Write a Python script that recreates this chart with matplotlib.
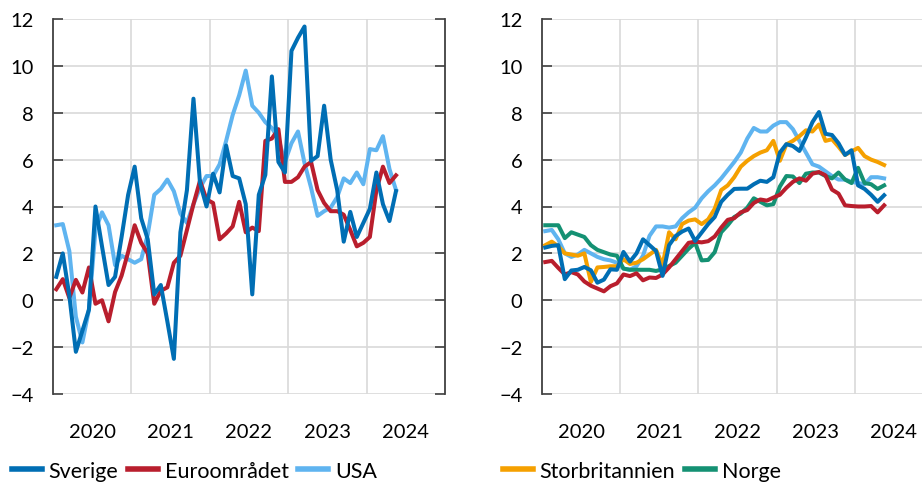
import matplotlib.pyplot as plt
import numpy as np
import pandas as pd

# manadsdata jan 2020 - maj 2024
months = pd.date_range('2020-01-01', periods=53, freq='MS')

# vanster panel
sverige_a = [1.0, 2.0, 0.2, -2.2, -1.3, -0.4, 4.0, 2.3, 0.65, 1.0, 2.7, 4.5, 5.7, 3.5, 2.6, 0.25, 0.65,
             -0.9, -2.5, 2.9, 4.7, 8.6, 5.0, 4.0, 5.4, 4.6, 6.6, 5.3, 5.2, 4.1, 0.25, 4.5, 5.35, 9.55,
             5.9, 5.45, 10.64, 11.2, 11.68, 5.95, 6.15, 8.3, 6.0, 4.7, 2.5, 3.77, 2.7, 3.3, 3.9, 5.45,
             4.1, 3.38, 4.66]
euro_a = [0.47, 0.9, 0.1, 0.87, 0.33, 1.4, -0.15, 0.0, -0.9, 0.35, 1.05, 2.05, 3.2, 2.45, 2.0, -0.15,
          0.4, 0.55, 1.6, 1.9, 3.0, 4.1, 5.1, 4.3, 4.15, 2.6, 2.85, 3.15, 4.2, 2.9, 3.1, 2.95, 6.8, 6.9,
          7.3, 5.05, 5.05, 5.25, 5.7, 5.9, 4.7, 4.15, 3.8, 3.8, 3.65, 3.0, 2.3, 2.45, 2.7, 4.7, 5.7,
          5.0, 5.33]
usa_a = [3.2, 3.25, 2.1, -0.7, -1.8, -0.4, 3.0, 3.75, 3.2, 1.5, 1.9, 1.75, 1.6, 1.75, 2.8, 4.5, 4.75,
         5.15, 4.65, 3.7, 3.3, 4.1, 4.8, 5.3, 5.3, 5.8, 6.8, 7.9, 8.75, 9.8, 8.3, 8.0, 7.6, 7.35, 6.9,
         5.9, 6.7, 7.2, 5.85, 4.8, 3.6, 3.8, 3.95, 4.4, 5.2, 5.0, 5.45, 4.95, 6.45, 6.4, 7.0, 5.6, 4.7]

# hoger panel
sverige_b = [2.25, 2.32, 2.35, 0.9, 1.27, 1.3, 1.42, 1.28, 0.75, 0.88, 1.32, 1.3, 2.06, 1.65, 2.0, 2.6,
             2.35, 2.1, 1.04, 2.35, 2.74, 2.93, 3.06, 2.53, 2.89, 3.25, 3.55, 4.2, 4.5, 4.75, 4.76, 4.76,
             4.95, 5.1, 5.05, 5.25, 6.3, 6.66, 6.58, 6.37, 6.95, 7.6, 8.03, 7.1, 7.05, 6.7, 6.2, 6.4,
             4.9, 4.75, 4.5, 4.2, 4.48]
euro_b = [1.63, 1.68, 1.38, 1.1, 1.2, 1.1, 0.8, 0.62, 0.5, 0.38, 0.6, 0.72, 1.1, 1.03, 1.15, 0.85, 0.97,
          0.95, 1.1, 1.4, 1.75, 2.1, 2.45, 2.5, 2.47, 2.52, 2.72, 3.1, 3.43, 3.5, 3.75, 3.85, 4.15, 4.3,
          4.25, 4.38, 4.5, 4.8, 5.05, 5.2, 5.1, 5.4, 5.47, 5.33, 4.72, 4.55, 4.05, 4.02, 4.0, 4.0, 4.02,
          3.75, 4.05]
usa_b = [2.95, 3.0, 2.6, 2.0, 1.85, 1.95, 2.15, 2.0, 1.85, 1.75, 1.7, 1.6, 1.35, 1.3, 1.45, 1.9, 2.75,
         3.15, 3.15, 3.1, 3.15, 3.5, 3.75, 3.95, 4.35, 4.65, 4.9, 5.2, 5.55, 5.9, 6.3, 6.9, 7.35, 7.2,
         7.2, 7.45, 7.6, 7.6, 7.3, 6.8, 6.3, 5.8, 5.7, 5.5, 5.3, 5.15, 5.15, 5.05, 5.0, 4.95, 5.25,
         5.25, 5.2]
storbritannien_b = [2.35, 2.5, 2.3, 2.0, 1.95, 1.9, 2.0, 0.78, 1.4, 1.42, 1.45, 1.45, 1.75, 1.55, 1.6,
                    1.75, 1.95, 2.15, 1.5, 2.9, 2.6, 3.25, 3.4, 3.45, 3.25, 3.45, 3.9, 4.7, 4.9, 5.25,
                    5.7, 5.95, 6.15, 6.3, 6.4, 6.8, 5.95, 6.65, 6.8, 7.0, 7.25, 7.2, 7.5, 6.8, 6.87,
                    6.55, 6.2, 6.35, 6.5, 6.15, 6.0, 5.9, 5.77]
norge_b = [3.2, 3.2, 3.2, 2.65, 2.9, 2.8, 2.7, 2.35, 2.15, 2.05, 1.95, 1.9, 1.35, 1.3, 1.3, 1.3, 1.3,
           1.25, 1.32, 1.46, 1.6, 1.9, 2.2, 2.45, 1.7, 1.72, 2.05, 2.9, 3.2, 3.55, 3.7, 3.95, 4.35,
           4.2, 4.05, 4.1, 4.85, 5.3, 5.28, 5.0, 5.4, 5.45, 5.45, 5.3, 5.2, 5.45, 5.15, 5.0, 5.65,
           5.0, 4.95, 4.75, 4.9]

years = ['2020', '2021', '2022', '2023', '2024']

c_se = '#006eb4'
c_eu = '#b91e2d'
c_us = '#5fb4f0'
c_uk = '#f5a000'
c_no = '#149173'

plt.rcParams['font.family'] = ['Lato', 'DejaVu Sans']

x = months.year + (months.month - 0.5) / 12

fig = plt.figure(figsize=(9.22, 4.85), dpi=100)
ax1 = fig.add_axes([53 / 922, 90 / 485, 392 / 922, 375 / 485])
ax2 = fig.add_axes([542 / 922, 90 / 485, 391 / 922, 375 / 485])


def style_axes(ax, right_side):
    ax.set_xlim(2020, 2025)
    ax.set_ylim(-4, 12)
    ax.set_yticks(range(-4, 13, 2))
    ax.set_xticks([2021, 2022, 2023, 2024])
    ax.set_xticks([int(y) + 0.5 for y in years], minor=True)
    ax.set_xticklabels(years, minor=True)
    ax.tick_params(axis='x', which='both', length=0)
    ax.tick_params(axis='x', which='major', labelbottom=False)
    ax.tick_params(axis='x', which='minor', pad=21, labelsize=14.5)
    ax.tick_params(axis='y', direction='in', length=7, width=1.2, color='#404040',
                   pad=14, labelsize=14.5, right=right_side)
    ax.grid(True, which='major', color='#d9d9d9', lw=1.2)
    ax.spines['top'].set_visible(False)
    ax.spines['bottom'].set_visible(False)
    ax.spines['right'].set_visible(right_side)
    for s in ['left', 'right']:
        ax.spines[s].set_color('#404040')
        ax.spines[s].set_linewidth(1.3)


lw = 2.9
ax1.plot(x, usa_a, color=c_us, lw=lw)
ax1.plot(x, euro_a, color=c_eu, lw=lw)
ax1.plot(x, sverige_a, color=c_se, lw=lw)
style_axes(ax1, True)

ax2.plot(x, usa_b, color=c_us, lw=lw)
ax2.plot(x, storbritannien_b, color=c_uk, lw=lw)
ax2.plot(x, norge_b, color=c_no, lw=lw)
ax2.plot(x, euro_b, color=c_eu, lw=lw)
ax2.plot(x, sverige_b, color=c_se, lw=lw)
style_axes(ax2, False)

# legender under panelerna
h_se, = ax1.plot([], [], color=c_se, lw=4)
h_eu, = ax1.plot([], [], color=c_eu, lw=4)
h_us, = ax1.plot([], [], color=c_us, lw=4)
h_uk, = ax2.plot([], [], color=c_uk, lw=4)
h_no, = ax2.plot([], [], color=c_no, lw=4)

leg_kw = dict(loc='center left', frameon=False, handlelength=1.4, handletextpad=0.3,
              columnspacing=0.45, borderpad=0, borderaxespad=0, fontsize=15.5)
fig.legend([h_se, h_eu, h_us], ['Sverige', 'Euroområdet', 'USA'], ncol=3,
           bbox_to_anchor=(12 / 922, 13 / 485), **leg_kw)
fig.legend([h_uk, h_no], ['Storbritannien', 'Norge'], ncol=2,
           bbox_to_anchor=(503 / 922, 13 / 485), **leg_kw)

fig.savefig('out.png', dpi=100)
